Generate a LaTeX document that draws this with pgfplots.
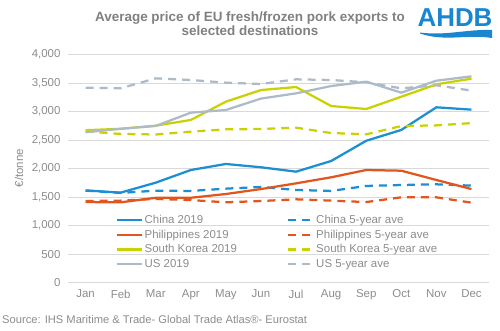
\documentclass[border=0pt]{standalone}
\usepackage{fontspec}
\setmainfont{Liberation Sans}
\usepackage{pgfplots}
\pgfplotsset{compat=1.18}
\definecolor{cchina}{HTML}{1B8FD2}
\definecolor{cphil}{HTML}{E2561E}
\definecolor{ckor}{HTML}{C9D200}
\definecolor{cus}{HTML}{ADBBC8}
\definecolor{txt}{HTML}{8C8C8C}
\definecolor{titc}{HTML}{808080}
\definecolor{gridc}{HTML}{D9D9D9}
\definecolor{ahdb}{HTML}{1A86CF}
\begin{document}
\begin{tikzpicture}[x=1bp,y=1bp]
\path[use as bounding box] (0,0) rectangle (500,330);
\node[font=\bfseries\fontsize{13.5}{15}\selectfont, text=titc, align=center] at (250,306.5) {Average price of EU fresh/frozen pork exports to\\[-1.5bp]selected destinations};
\node[font=\fontsize{26}{28}\selectfont\bfseries, text=ahdb, inner sep=0] at (455,312) {AHDB};
\fill[ahdb] (420,296.5) .. controls (445,288) and (468,296) .. (492,292) -- (492,300) .. controls (468,301) and (445,294) .. (420,297.5) -- cycle;
\node[font=\fontsize{11.2}{13}\selectfont, text=txt, anchor=west, inner sep=0] at (2,10) {Source: IHS Maritime \& Trade- Global Trade Atlas®- Eurostat};
\begin{axis}[
  at={(68bp,47.3bp)}, anchor=south west,
  scale only axis, width=421bp, height=228bp,
  xmin=0.5, xmax=12.5, ymin=0, ymax=4000,
  xtick={1,...,12},
  xticklabels={Jan,Feb,Mar,Apr,May,Jun,Jul,Aug,Sep,Oct,Nov,Dec},
  ytick={0,500,...,4000},
  ymajorgrids, grid style={gridc, line width=0.75bp},
  axis line style={draw=none},
  major tick length=0,
  tick label style={font=\fontsize{11.5}{13}\selectfont, text=txt},
  yticklabel style={xshift=-4bp},
  xticklabel style={yshift=-3.5bp},
  /pgf/number format/.cd, 1000 sep={,}, assume math mode=true,
  /pgfplots/.cd,
  ylabel={€/tonne},
  ylabel style={font=\fontsize{11.5}{13}\selectfont, text=txt, at={(axis description cs:-0.1164,0.503)}, anchor=center, rotate=0},
  legend columns=2,
  legend style={draw=none, fill=none, at={(0.105,0.315)}, anchor=north west,
    font=\fontsize{11.5}{13}\selectfont, text=txt, row sep=1bp,
    /tikz/every even column/.append style={column sep=48bp},
    cells={anchor=west}},
  legend image code/.code={\draw[#1] (0bp,0bp) -- (25bp,0bp);},
  every axis plot/.append style={line width=2.25bp, mark=none},
]
\addplot[cchina] coordinates {(1,1620)(2,1580)(3,1755)(4,1977)(5,2083)(6,2025)(7,1948)(8,2135)(9,2490)(10,2680)(11,3077)(12,3036)};
\addlegendentry{China 2019}
\addplot[cchina, dash pattern=on 8bp off 6bp] coordinates {(1,1615)(2,1575)(3,1615)(4,1610)(5,1650)(6,1680)(7,1627)(8,1610)(9,1697)(10,1714)(11,1726)(12,1703)};
\addlegendentry{China 5-year ave}
\addplot[cphil] coordinates {(1,1415)(2,1410)(3,1490)(4,1490)(5,1556)(6,1643)(7,1743)(8,1849)(9,1977)(10,1965)(11,1802)(12,1643)};
\addlegendentry{Philippines 2019}
\addplot[cphil, dash pattern=on 8bp off 6bp] coordinates {(1,1433)(2,1440)(3,1470)(4,1450)(5,1410)(6,1433)(7,1463)(8,1440)(9,1415)(10,1498)(11,1498)(12,1404)};
\addlegendentry{Philippines 5-year ave}
\addplot[ckor] coordinates {(1,2675)(2,2700)(3,2755)(4,2855)(5,3176)(6,3380)(7,3433)(8,3100)(9,3047)(10,3263)(11,3480)(12,3580)};
\addlegendentry{South Korea 2019}
\addplot[ckor, dash pattern=on 8bp off 6bp] coordinates {(1,2655)(2,2610)(3,2600)(4,2650)(5,2690)(6,2697)(7,2720)(8,2626)(9,2603)(10,2749)(11,2760)(12,2800)};
\addlegendentry{South Korea 5-year ave}
\addplot[cus] coordinates {(1,2640)(2,2700)(3,2750)(4,2983)(5,3030)(6,3230)(7,3322)(8,3450)(9,3527)(10,3334)(11,3544)(12,3620)};
\addlegendentry{US 2019}
\addplot[cus, dash pattern=on 8bp off 6bp] coordinates {(1,3421)(2,3410)(3,3585)(4,3556)(5,3509)(6,3486)(7,3568)(8,3556)(9,3516)(10,3410)(11,3463)(12,3370)};
\addlegendentry{US 5-year ave}
\end{axis}
\end{tikzpicture}
\end{document}
